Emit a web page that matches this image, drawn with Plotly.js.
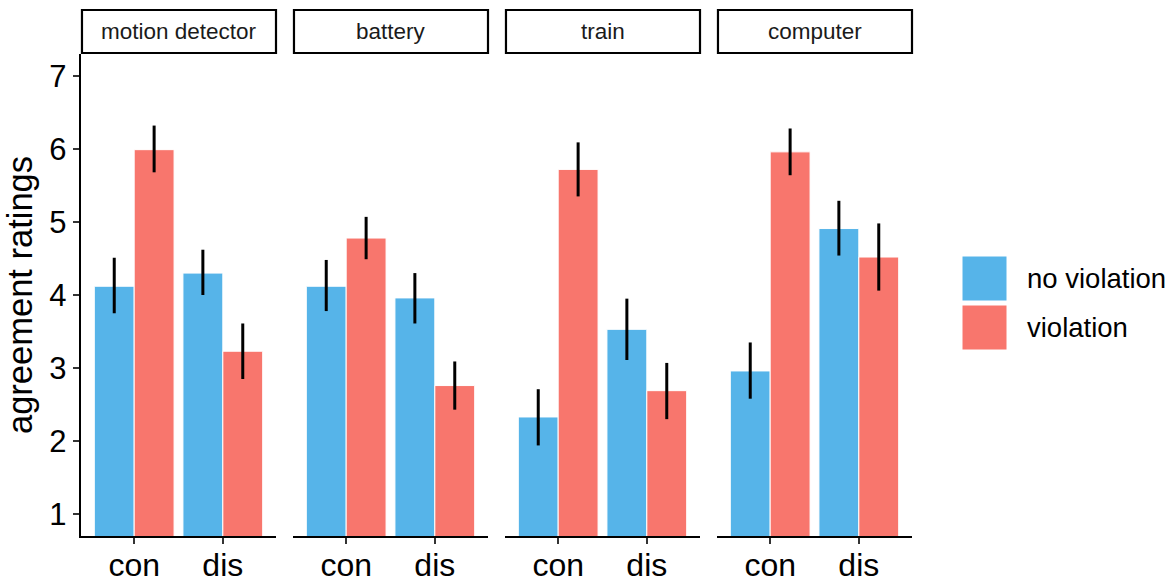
<!DOCTYPE html>
<html>
<head>
<meta charset="utf-8">
<script src="https://cdn.plot.ly/plotly-3.0.1.min.js"></script>
<style>html,body{margin:0;padding:0;background:#fff;}#chart{width:1176px;height:582px;}</style>
</head>
<body>
<div id="chart"></div>
<script>
// ---- data ----
var facets = ['motion detector', 'battery', 'train', 'computer'];
var conditions = ['con', 'dis'];
var seriesNames = ['no violation', 'violation'];

// means per facet: [con, dis]
var noViolationMean = [[4.12, 4.30], [4.12, 3.96], [2.33, 3.53], [2.96, 4.91]];
var violationMean   = [[5.99, 3.23], [4.78, 2.76], [5.72, 2.69], [5.96, 4.52]];
// error bar bounds per facet: [con, dis]
var noViolationUpper = [[4.51, 4.62], [4.48, 4.30], [2.71, 3.95], [3.35, 5.29]];
var noViolationLower = [[3.75, 4.00], [3.78, 3.61], [1.94, 3.11], [2.58, 4.54]];
var violationUpper   = [[6.32, 3.61], [5.07, 3.09], [6.09, 3.07], [6.28, 4.98]];
var violationLower   = [[5.68, 2.85], [4.49, 2.43], [5.35, 2.30], [5.64, 4.06]];

var yTicks = [1, 2, 3, 4, 5, 6, 7];
var colors = ['#56B4E9', '#F8766D'];
var FONT = 'Liberation Sans, Arial, Helvetica, sans-serif';

var means = [noViolationMean, violationMean];
var uppers = [noViolationUpper, violationUpper];
var lowers = [noViolationLower, violationLower];

var traces = [];
var layout = {
  width: 1176, height: 582,
  margin: {l: 81, r: 264, t: 54, b: 46},
  paper_bgcolor: '#fff', plot_bgcolor: '#fff',
  barmode: 'group', bargap: 0.1, bargroupgap: 0,
  showlegend: false,
  font: {family: FONT, color: '#000'},
  shapes: [], annotations: [],
  yaxis: {
    range: [0.7, 7.3], tickvals: yTicks, ticktext: yTicks.map(String),
    showgrid: false, zeroline: false, showline: true, linecolor: '#000', linewidth: 2.2,
    ticks: 'outside', ticklen: 6, tickwidth: 2, tickcolor: '#333',
    tickfont: {size: 31, color: '#000', family: FONT},
    title: {text: 'agreement ratings', font: {size: 34.5, family: FONT, color: '#000'}, standoff: 6},
    anchor: 'x'
  }
};

var plotW = 1176 - 81 - 264;
var panelW = 195 / plotW;
var gapW = (1 - 4 * panelW) / 3;

facets.forEach(function (f, i) {
  var ax = i === 0 ? 'x' : 'x' + (i + 1);
  var axKey = i === 0 ? 'xaxis' : 'xaxis' + (i + 1);
  var d0 = i * (panelW + gapW);
  layout[axKey] = {
    domain: [d0, Math.min(1, d0 + panelW)],
    type: 'category', range: [-0.6, 1.6],
    showgrid: false, zeroline: false, showline: true, linecolor: '#000', linewidth: 2.2,
    ticks: 'outside', ticklen: 6, tickwidth: 2, tickcolor: '#333',
    tickfont: {size: 32, color: '#000', family: FONT},
    ticklabelstandoff: -7,
    anchor: 'y'
  };
  for (var s = 0; s < 2; s++) {
    var m = means[s][i];
    traces.push({
      type: 'bar', x: conditions, y: m, base: 0,
      name: seriesNames[s], xaxis: ax, yaxis: 'y',
      marker: {color: colors[s], line: {color: '#ffffff', width: 1}},
      error_y: {
        type: 'data', symmetric: false,
        array: m.map(function (v, k) { return uppers[s][i][k] - v; }),
        arrayminus: m.map(function (v, k) { return v - lowers[s][i][k]; }),
        color: '#000', thickness: 3, width: 0
      },
      hoverinfo: 'skip'
    });
  }
  // strip
  layout.shapes.push({
    type: 'rect', xref: ax + ' domain', yref: 'paper',
    x0: 0.005, x1: 1, y0: (536 - 53) / 482, y1: (536 - 10) / 482,
    line: {color: '#000', width: 2.2}, fillcolor: '#fff'
  });
  layout.annotations.push({
    xref: ax + ' domain', yref: 'paper', x: 0.5, y: (536 - 31.5) / 482,
    text: f, showarrow: false, xanchor: 'center', yanchor: 'middle',
    font: {size: 22.5, color: '#1a1a1a', family: FONT}
  });
});

// legend (manual, ggplot-like large keys)
var keyTop = [256, 305];
seriesNames.forEach(function (n, s) {
  var y0 = keyTop[s], y1 = keyTop[s] + 45;
  layout.shapes.push({
    type: 'rect', xref: 'paper', yref: 'paper',
    x0: (962 - 81) / plotW, x1: (1007 - 81) / plotW,
    y0: (536 - y1) / 482, y1: (536 - y0) / 482,
    line: {color: '#fff', width: 1}, fillcolor: colors[s]
  });
  layout.annotations.push({
    xref: 'paper', yref: 'paper', x: (1025 - 81) / plotW, y: (536 - (y0 + 22.5)) / 482,
    text: n, showarrow: false, xanchor: 'left', yanchor: 'middle',
    font: {size: 27.5, color: '#000', family: FONT}
  });
});

Plotly.newPlot('chart', traces, layout, {staticPlot: true, displayModeBar: false});
</script>
</body>
</html>
